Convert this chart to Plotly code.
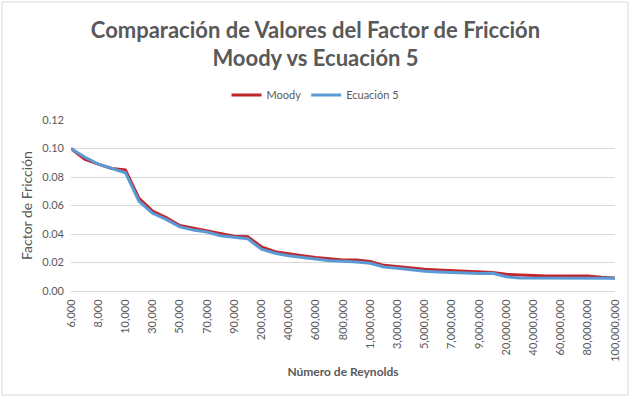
import plotly.graph_objects as go

reynolds = [6000, 7000, 8000, 9000, 10000,
            20000, 30000, 40000, 50000, 60000, 70000, 80000, 90000, 100000,
            200000, 300000, 400000, 500000, 600000, 700000, 800000, 900000, 1000000,
            2000000, 3000000, 4000000, 5000000, 6000000, 7000000, 8000000, 9000000, 10000000,
            20000000, 30000000, 40000000, 50000000, 60000000, 70000000, 80000000, 90000000, 100000000]

moody = [0.100, 0.0925, 0.089, 0.086, 0.085,
         0.065, 0.056, 0.0515, 0.046, 0.044, 0.0423, 0.040, 0.0384, 0.038,
         0.031, 0.0276, 0.026, 0.0248, 0.0236, 0.0227, 0.0218, 0.0218, 0.0208,
         0.018, 0.017, 0.0161, 0.0152, 0.0147, 0.0143, 0.0138, 0.0133, 0.0129,
         0.0117, 0.0112, 0.011, 0.0105, 0.0105, 0.0105, 0.0105, 0.0096, 0.0092]

ecuacion5 = [0.100, 0.094, 0.089, 0.086, 0.083,
             0.063, 0.0545, 0.0503, 0.045, 0.0428, 0.0414, 0.0388, 0.0379, 0.0367,
             0.0293, 0.0265, 0.0248, 0.0236, 0.0225, 0.0213, 0.0208, 0.0204, 0.0194,
             0.0168, 0.016, 0.0147, 0.0138, 0.0133, 0.013, 0.0124, 0.0122, 0.0124,
             0.010, 0.0091, 0.0091, 0.0091, 0.0091, 0.0091, 0.009, 0.009, 0.009]

categories = [f"{r:,}" for r in reynolds]
tick_labels = categories[::2]
y_ticks = [0.00, 0.02, 0.04, 0.06, 0.08, 0.10, 0.12]

FONT = "Lato"
GREY = "#595959"

fig = go.Figure()
fig.add_trace(go.Scatter(x=categories, y=moody, mode="lines", name="Moody",
                         line=dict(color="#C0262B", width=3)))
fig.add_trace(go.Scatter(x=categories, y=ecuacion5, mode="lines", name="Ecuación 5",
                         line=dict(color="#5B9BD5", width=3)))

fig.update_layout(
    width=631, height=398,
    margin=dict(l=71, r=16, t=120, b=107, autoexpand=False),
    paper_bgcolor="white", plot_bgcolor="white",
    font=dict(family=FONT, color=GREY, size=11),
    title=dict(text="<b>Comparación de Valores del Factor de Fricción<br>Moody vs Ecuación 5</b>",
               x=0.5, xanchor="center", xref="container",
               y=0.905, yanchor="top", yref="container",
               font=dict(family=FONT, size=22, color=GREY)),
    legend=dict(orientation="h", x=0.5, xanchor="center", xref="container",
                y=1 - 95 / 398, yref="container", yanchor="middle",
                font=dict(family=FONT, size=11, color=GREY),
                itemwidth=30, traceorder="normal"),
    showlegend=True,
    xaxis=dict(type="category", tickmode="array", tickvals=tick_labels, ticktext=tick_labels,
               tickangle=-90, tickfont=dict(size=11, color=GREY), automargin=False,
               showgrid=False, showline=True, linecolor="#D9D9D9", linewidth=1,
               ticks="", zeroline=False, ticklabelstandoff=3,
               title=dict(text="<b>Número de Reynolds</b>", font=dict(size=12, color=GREY),
                          standoff=6)),
    yaxis=dict(range=[0, 0.12], tickmode="array", tickvals=y_ticks, automargin=False,
               tickformat=".2f", tickfont=dict(size=11, color=GREY),
               showgrid=True, gridcolor="#D9D9D9", gridwidth=1, zeroline=False,
               ticks="", ticklabelstandoff=6,
               title=dict(text="Factor de Fricción", font=dict(size=14, color=GREY),
                          standoff=6)),
)

fig.add_shape(type="rect", xref="paper", yref="paper",
              x0=(2 - 71) / 544, x1=(628 - 71) / 544,
              y0=(291 - 395) / 171, y1=(291 - 2) / 171,
              line=dict(color="#D9D9D9", width=1), fillcolor="rgba(0,0,0,0)", layer="below")

fig.write_html("out.html", config={"displayModeBar": False},
               post_script="document.body.style.margin='0';document.body.style.padding='0';")
